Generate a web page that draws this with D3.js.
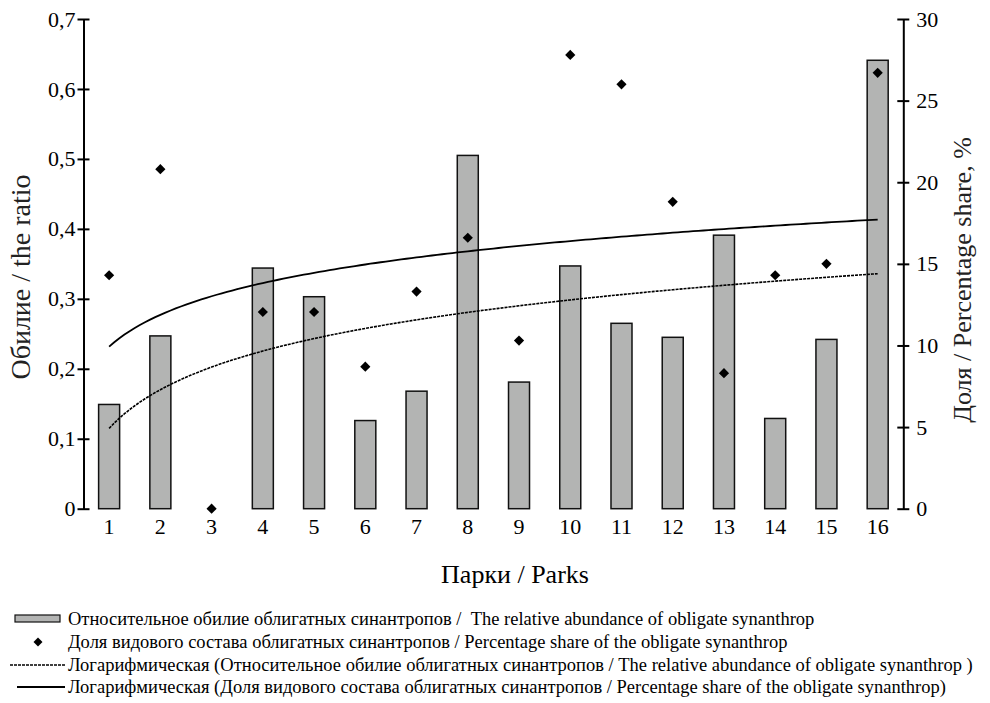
<!DOCTYPE html>
<html>
<head>
<meta charset="utf-8">
<script src="https://cdn.jsdelivr.net/npm/d3@7"></script>
<style>
  body { margin: 0; background: #fff; }
</style>
</head>
<body>
<svg id="chart" width="990" height="703"></svg>
<script>
// parks 1..16
const parks = ['1', '2', '3', '4', '5', '6', '7', '8', '9', '10', '11', '12', '13', '14', '15', '16'];
// relative abundance (left axis)
const abundance = [0.149, 0.247, 0, 0.344, 0.303, 0.126, 0.168, 0.505, 0.181, 0.347, 0.265, 0.245, 0.391, 0.129, 0.242, 0.641];
// percentage share (right axis)
const share = [14.3, 20.8, 0, 12.05, 12.05, 8.7, 13.3, 16.6, 10.3, 27.8, 26.0, 18.8, 8.3, 14.3, 15.0, 26.7];

const leftTicks = [0, 0.1, 0.2, 0.3, 0.4, 0.5, 0.6, 0.7];
const rightTicks = [0, 5, 10, 15, 20, 25, 30];

const legendLabels = [
  'Относительное обилие облигатных синантропов /  The relative abundance of obligate synanthrop',
  'Доля видового состава облигатных синантропов / Percentage share of the obligate synanthrop',
  'Логарифмическая (Относительное обилие облигатных синантропов / The relative abundance of obligate synanthrop )',
  'Логарифмическая (Доля видового состава облигатных синантропов / Percentage share of the obligate synanthrop)'
];

const FONT = 'Liberation Serif';

const svg = d3.select('#chart');
const plot = { left: 83.5, right: 903.3, top: 19, bottom: 508.7 };

const x = d3.scaleBand()
  .domain(parks)
  .range([plot.left, plot.right])
  .paddingInner(0.59)
  .paddingOuter(0.295);

const yLeft = d3.scaleLinear().domain([0, 0.7]).range([plot.bottom, plot.top]);
const yRight = d3.scaleLinear().domain([0, 30]).range([plot.bottom, plot.top]);

const center = p => x(p) + x.bandwidth() / 2;

// logarithmic trend (least squares on ln(i)), like the spreadsheet trendline
function logFit(vals) {
  const lx = vals.map((v, i) => Math.log(i + 1));
  const mx = d3.mean(lx), my = d3.mean(vals);
  const b = d3.sum(lx, (l, i) => (l - mx) * (vals[i] - my)) / d3.sum(lx, l => (l - mx) ** 2);
  const a = my - b * mx;
  return t => a + b * Math.log(t);
}

// bars
svg.append('g')
  .selectAll('rect')
  .data(abundance.map((v, i) => ({ park: parks[i], v })).filter(d => d.v > 0))
  .join('rect')
  .attr('x', d => x(d.park))
  .attr('y', d => yLeft(d.v))
  .attr('width', x.bandwidth())
  .attr('height', d => yLeft(0) - yLeft(d.v))
  .attr('fill', '#b3b4b3')
  .attr('stroke', '#111')
  .attr('stroke-width', 1.5);

// trend lines
const tPos = d3.scaleLinear().domain([1, 16]).range([center('1'), center('16')]);
const ts = d3.range(1, 16.001, 0.1);
const fitA = logFit(abundance);
const fitS = logFit(share);

svg.append('path')
  .attr('d', d3.line().x(t => tPos(t)).y(t => yLeft(fitA(t)))(ts))
  .attr('fill', 'none')
  .attr('stroke', '#000')
  .attr('stroke-width', 1.6)
  .attr('stroke-dasharray', '3,1');

svg.append('path')
  .attr('d', d3.line().x(t => tPos(t)).y(t => yRight(fitS(t)))(ts))
  .attr('fill', 'none')
  .attr('stroke', '#000')
  .attr('stroke-width', 1.8);

// diamonds
const diamond = d3.symbol(d3.symbolSquare, 52);
svg.append('g')
  .selectAll('path')
  .data(share)
  .join('path')
  .attr('d', diamond)
  .attr('transform', (d, i) => `translate(${center(parks[i])},${yRight(d)}) rotate(45)`)
  .attr('fill', '#000');

// axes
const fmt = d => d === 0 ? '0' : d3.format('.1f')(d).replace('.', ',');

const gl = svg.append('g')
  .attr('transform', `translate(${plot.left},0)`)
  .call(d3.axisLeft(yLeft).tickValues(leftTicks).tickFormat(fmt).tickSize(6).tickSizeOuter(0).tickPadding(2));

const gr = svg.append('g')
  .attr('transform', `translate(${plot.right},0)`)
  .call(d3.axisRight(yRight).tickValues(rightTicks).tickSize(6).tickSizeOuter(0).tickPadding(7));

[gl, gr].forEach(g => {
  g.select('.domain').attr('stroke', '#000').attr('stroke-width', 2);
  g.selectAll('.tick line').attr('x1', -6).attr('x2', 6).attr('stroke', '#000').attr('stroke-width', 2);
  g.selectAll('.tick text')
    .style('font-family', FONT)
    .style('font-size', '22px')
    .attr('fill', '#000');
});

// category labels (no baseline)
const gx = svg.append('g')
  .attr('transform', `translate(0,${plot.bottom})`)
  .call(d3.axisBottom(x).tickSize(0).tickPadding(10));
gx.select('.domain').remove();
gx.selectAll('.tick text')
  .style('font-family', FONT)
  .style('font-size', '22px')
  .attr('fill', '#000');

// titles
svg.append('text')
  .attr('transform', 'translate(30,277) rotate(-90)')
  .attr('text-anchor', 'middle')
  .style('font-family', FONT)
  .style('font-size', '28px')
  .attr('fill', '#222')
  .text('Обилие / the ratio');

svg.append('text')
  .attr('transform', 'translate(971,280) rotate(-90)')
  .attr('text-anchor', 'middle')
  .style('font-family', FONT)
  .style('font-size', '26px')
  .attr('fill', '#222')
  .text('Доля / Percentage share, %');

svg.append('text')
  .attr('x', 515)
  .attr('y', 583)
  .attr('text-anchor', 'middle')
  .style('font-family', FONT)
  .style('font-size', '26px')
  .attr('fill', '#000')
  .text('Парки / Parks');

// legend
const lg = svg.append('g');
const rowY = [619, 642, 665, 687];

lg.append('rect')
  .attr('x', 15).attr('y', rowY[0] - 4).attr('width', 45).attr('height', 7)
  .attr('fill', '#b3b4b3').attr('stroke', '#111').attr('stroke-width', 1.2);
lg.append('path')
  .attr('d', d3.symbol(d3.symbolSquare, 40)())
  .attr('transform', `translate(38,${rowY[1]}) rotate(45)`);
lg.append('line')
  .attr('x1', 10).attr('x2', 65).attr('y1', rowY[2]).attr('y2', rowY[2])
  .attr('stroke', '#000').attr('stroke-width', 1.6).attr('stroke-dasharray', '3,1');
lg.append('line')
  .attr('x1', 17).attr('x2', 65).attr('y1', rowY[3]).attr('y2', rowY[3])
  .attr('stroke', '#000').attr('stroke-width', 1.8);

lg.selectAll('text')
  .data(legendLabels)
  .join('text')
  .attr('x', 68)
  .attr('y', (d, i) => rowY[i] + 6)
  .style('font-family', FONT)
  .style('font-size', '18.5px')
  .style('white-space', 'pre')
  .attr('fill', '#000')
  .text(d => d);
</script>
</body>
</html>
